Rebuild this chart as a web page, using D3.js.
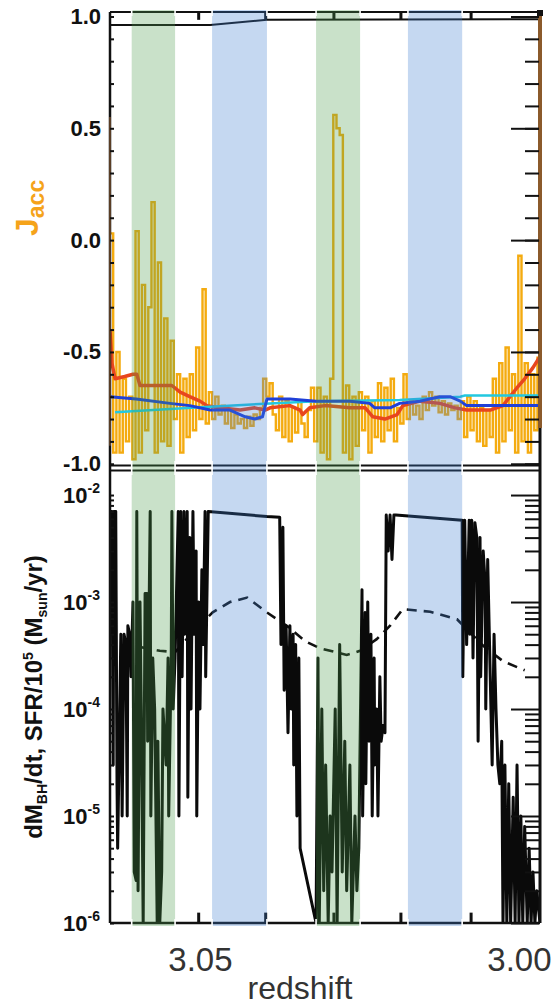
<!DOCTYPE html>
<html><head><meta charset="utf-8">
<script src="https://cdn.jsdelivr.net/npm/d3@7"></script>
<style>
html,body{margin:0;padding:0;background:#fff;}
svg{display:block;font-family:"Liberation Sans",Arial,Helvetica,sans-serif;}
</style></head><body>
<svg id="chart" width="557" height="1008"></svg>
<script>
// ---------------- DATA ----------------
const xTickValues = [3.05, 3.00];
const xTickLabels = ["3.05", "3.00"];
const jTickValues = [1.0, 0.5, 0.0, -0.5, -1.0];
const jTickLabels = ["1.0", "0.5", "0.0", "-0.5", "-1.0"];
const logTickValues = [1e-2, 1e-3, 1e-4, 1e-5, 1e-6];
const logTickExps = ["-2", "-3", "-4", "-5", "-6"];

const bandsGreen = [[3.0607, 3.0539], [3.0318, 3.0249]];
const bandsBlue = [[3.0481, 3.0395], [3.0174, 3.0089]];

// J_acc (orange), sampled every 0.0005 in redshift starting at 3.0641
const jaccZ0 = 3.0641, jaccDZ = 0.0005;
const jaccVals = [0.03,-0.95,-0.5,-0.95,-0.62,-0.9,-0.7,-0.98,0.04,-0.95,
 -0.2,-0.85,-0.3,0.17,-0.95,-0.1,-0.9,-0.35,-0.92,-0.45,
 -0.8,-0.6,-0.95,-0.62,-0.88,-0.6,-0.85,-0.48,-0.8,-0.22,
 -0.82,-0.68,-0.8,-0.7,-0.78,-0.74,-0.82,-0.76,-0.84,-0.78,
 -0.82,-0.8,-0.84,-0.79,-0.83,-0.78,-0.8,-0.75,-0.62,-0.7,
 -0.64,-0.78,-0.85,-0.7,-0.88,-0.72,-0.9,-0.75,-0.86,-0.72,
 -0.82,-0.88,-0.76,-0.66,-0.9,-0.66,-0.95,-0.7,-0.98,-0.62,
 0.56,0.5,0.47,-0.95,-0.65,-0.98,-0.7,-0.92,-0.68,-0.85,
 -0.7,-0.95,-0.72,-0.88,-0.64,-0.9,-0.66,-0.85,-0.62,-0.9,
 -0.75,-0.82,-0.6,-0.8,-0.72,-0.78,-0.74,-0.8,-0.7,-0.76,
 -0.68,-0.74,-0.7,-0.77,-0.72,-0.78,-0.73,-0.76,-0.74,-0.8,
 -0.72,-0.88,-0.7,-0.85,-0.72,-0.9,-0.75,-0.92,-0.76,-0.88,
 -0.62,-0.95,-0.55,-0.9,-0.48,-0.85,-0.6,-0.95,-0.07,-0.9,
 -0.55,-0.95,-0.6,-0.85,-0.52];

const redZ = [3.0641,3.0638,3.0633,3.0618,3.0605,3.0599,3.0594,3.0563,3.0544,3.0531,3.0516,3.0500,3.0489,3.0469,3.0437,3.0414,3.0398,3.0390,3.0359,3.0343,3.0339,3.0328,3.0304,3.0265,3.0241,3.0229,3.0210,3.0191,3.0182,3.0155,3.0124,3.0100,3.0082,3.0045,3.0025,3.0014,3.0003,2.9991,2.9978,2.9967];
const redJ = [-0.40,-0.55,-0.62,-0.61,-0.60,-0.60,-0.65,-0.65,-0.65,-0.68,-0.70,-0.72,-0.74,-0.75,-0.76,-0.75,-0.76,-0.75,-0.74,-0.76,-0.78,-0.75,-0.74,-0.75,-0.75,-0.79,-0.80,-0.78,-0.74,-0.72,-0.73,-0.75,-0.76,-0.76,-0.74,-0.70,-0.66,-0.62,-0.57,-0.52];

const blueZ = [3.0641,3.0600,3.0547,3.0516,3.0484,3.0453,3.0429,3.0414,3.0402,3.0395,3.0359,3.0318,3.0265,3.0234,3.0226,3.0202,3.0187,3.0155,3.0124,3.0108,3.0092,3.0082,3.0030,2.9967];
const blueJ = [-0.70,-0.71,-0.73,-0.74,-0.76,-0.76,-0.79,-0.80,-0.79,-0.71,-0.71,-0.72,-0.72,-0.73,-0.75,-0.75,-0.73,-0.72,-0.70,-0.70,-0.72,-0.74,-0.74,-0.74];

const cyanZ = [3.0633,3.0547,3.0484,3.0390,3.0318,3.0187,3.0092,3.0085,2.9967];
const cyanJ = [-0.77,-0.755,-0.745,-0.73,-0.72,-0.715,-0.70,-0.695,-0.695];

const topZ = [3.0641,3.0484,3.0395,2.9967];
const topJ = [0.962,0.962,0.985,0.988];

const eventZ = [3.0502,3.0397,3.0290,3.0185,3.0075];

// dM_BH/dt (black)
const bhZ = [3.0641,3.0638,3.0636,3.0635,3.0632,3.0630,3.0629,3.0627,3.0624,3.0622,3.0619,3.0616,3.0614,3.0613,3.0610,3.0608,
 3.0605,3.0603,3.0600,3.0599,3.0597,3.0594,3.0592,3.0589,3.0586,3.0583,3.0582,3.0578,3.0577,3.0574,3.0571,3.0567,3.0566,3.0563,3.0560,3.0558,3.0553,3.0550,3.0549,3.0545,3.0544,3.0542,3.0539,
 3.0534,3.0533,3.0530,3.0528,3.0525,3.0524,3.0520,3.0519,3.0516,3.0514,3.0511,3.0509,3.0506,3.0505,3.0502,3.0500,3.0497,3.0495,3.0492,3.0491,3.0487,
 3.0395,3.0375,3.0373,3.0370,3.0368,3.0365,3.0364,3.0362,3.0359,3.0357,3.0354,3.0353,3.0350,3.0348,3.0345,3.0343,3.0318,
 3.0315,3.0313,3.0309,3.0306,3.0303,3.0299,3.0296,3.0293,3.0288,3.0285,3.0281,3.0277,3.0273,3.0270,3.0265,3.0262,3.0257,3.0254,3.0251,
 3.0246,3.0245,3.0241,3.0240,3.0237,3.0235,3.0232,3.0230,3.0227,3.0226,3.0223,3.0221,3.0218,3.0216,3.0213,3.0210,3.0208,3.0205,3.0202,3.0199,3.0196,3.0193,
 3.0089,3.0088,3.0085,3.0082,3.0078,3.0077,3.0074,3.0072,3.0069,3.0066,3.0064,3.0061,3.0060,3.0056,3.0053,3.0052,3.0049,3.0045,3.0042,3.0039,3.0036,3.0033,3.0030,3.0027,3.0025,3.0022,3.0019,3.0016,3.0013,3.0009,3.0006,3.0003,3.0000,2.9997,2.9994,2.9991,2.9987,2.9984,2.9981,2.9978,2.9975,2.9972,2.9967];
const bhV = [7e-3,7e-3,3e-5,7e-3,7e-3,2e-5,5e-6,3e-5,5e-4,1e-5,5e-4,4e-4,1e-5,6e-4,5e-4,2e-4,
 1e-3,3e-6,2.5e-6,7e-3,2e-6,1e-3,1e-4,1e-6,1.2e-3,1.2e-3,5e-5,7e-3,1e-5,3e-4,1e-4,1e-6,5e-5,1e-6,3e-6,1e-4,3e-5,3e-4,1e-5,3e-4,7e-3,1e-4,3e-4,
 7e-3,1e-5,7e-3,2e-4,7e-3,5e-4,7e-3,1.5e-5,4e-3,1e-4,7e-3,5e-4,3e-3,1e-5,1e-3,1e-4,2e-3,4e-4,7e-3,2e-4,7e-3,
 6.3e-3,6.2e-3,4e-4,5e-3,1.5e-4,6e-4,3e-4,6e-5,6e-4,1e-4,5e-4,3e-5,4e-4,1e-5,3e-4,5e-6,1e-6,
 3e-4,1e-6,1e-4,2e-6,3e-5,1e-6,1e-5,3e-6,1e-4,1e-6,4e-4,3e-6,5e-5,2e-6,3e-5,1e-6,1e-5,2e-6,5e-6,
 1.3e-3,1e-5,8e-4,2e-5,1e-3,5e-5,5e-4,1e-5,3e-4,3e-5,1e-4,1e-5,2e-4,5e-5,7e-5,6e-5,6.5e-3,3e-3,6.5e-3,2.5e-3,6.5e-3,6.5e-3,
 5.8e-3,2e-4,5.8e-3,4e-4,5.8e-3,5e-4,5.8e-3,3e-4,5.5e-3,4e-3,5e-5,4e-3,2e-4,3e-3,1.5e-3,1e-4,2.5e-3,2e-4,3e-5,5e-4,1e-4,3e-5,2e-5,5e-5,1e-6,3e-5,1e-6,2e-5,1e-6,1.5e-5,1e-6,3e-5,1e-6,1e-5,1e-6,8e-6,1e-6,5e-6,1e-6,3e-6,1e-6,2e-6,1e-6];

// SFR / 1e5 (dashed)
const sfrZ = [3.0594,3.0563,3.0539,3.0508,3.0480,3.0453,3.0426,3.0395,3.0364,3.0335,3.0312,3.0270,3.0249,3.0223,3.0202,3.0182,3.0139,3.0097,3.0077,3.0056,3.0025,2.9991];
const sfrV = [3.8e-4,3.5e-4,3.4e-4,5.5e-4,8e-4,1e-3,1.1e-3,8e-4,6e-4,4.3e-4,3.7e-4,3.2e-4,3.5e-4,4.5e-4,6e-4,8.6e-4,8.1e-4,6.9e-4,5.2e-4,3.9e-4,2.8e-4,2.3e-4];

// ---------------- CHART ----------------
const L = 110, R = 540;
const T1 = 12, B1 = 466, T2 = 470, B2 = 923;
const svg = d3.select("#chart");
const x = d3.scaleLinear().domain([3.0641, 2.9967]).range([L, R]);
const yTop = d3.scaleLinear().domain([-1.01, 1.02]).range([B1, T1]);
const yBot = d3.scaleLog().domain([1e-6, 0.01714]).range([B2, T2]);

const defs = svg.append("defs");
defs.append("clipPath").attr("id","c1").append("rect").attr("x",L).attr("y",T1).attr("width",R-L).attr("height",B1-T1);
defs.append("clipPath").attr("id","c2").append("rect").attr("x",L).attr("y",T2-2).attr("width",R-L).attr("height",B2-T2+2);

const g1 = svg.append("g").attr("clip-path","url(#c1)");
const g2 = svg.append("g").attr("clip-path","url(#c2)");

const lineTop = d3.line().x(d=>x(d[0])).y(d=>yTop(d[1]));
const lineBot = d3.line().x(d=>x(d[0])).y(d=>yBot(d[1]));

// orange J_acc
const jaccPts = jaccVals.map((v,i)=>[jaccZ0 - i*jaccDZ, v]);
g1.append("path").attr("d", lineTop.curve(d3.curveStepAfter)(jaccPts))
  .attr("fill","none").attr("stroke","#f4ab10").attr("stroke-width",2.4);
lineTop.curve(d3.curveLinear);
g1.append("path").attr("d", lineTop(d3.zip(redZ, redJ)))
  .attr("fill","none").attr("stroke","#e8461e").attr("stroke-width",3.5).attr("stroke-linejoin","round");
g1.append("path").attr("d", lineTop(d3.zip(cyanZ, cyanJ)))
  .attr("fill","none").attr("stroke","#22c8e0").attr("stroke-width",2.5);
g1.append("path").attr("d", lineTop(d3.zip(blueZ, blueJ)))
  .attr("fill","none").attr("stroke","#2040d8").attr("stroke-width",3).attr("stroke-linejoin","round");
g1.append("path").attr("d", lineTop(d3.zip(topZ, topJ)))
  .attr("fill","none").attr("stroke","#111").attr("stroke-width",2);
g1.selectAll("line.ev").data(eventZ).enter().append("line")
  .attr("x1",d=>x(d)).attr("x2",d=>x(d)).attr("y1",yTop(1.02)).attr("y2",yTop(0.985))
  .attr("stroke","#111").attr("stroke-width",3);

// bottom panel
g2.append("path").attr("d", lineBot(d3.zip(sfrZ, sfrV)))
  .attr("fill","none").attr("stroke","#111").attr("stroke-width",2.6).attr("stroke-dasharray","10,7");
g2.append("path").attr("d", lineBot(d3.zip(bhZ, bhV)))
  .attr("fill","none").attr("stroke","#0a0a0a").attr("stroke-width",3).attr("stroke-linejoin","round");
g2.selectAll("line.ev").data(eventZ).enter().append("line")
  .attr("x1",d=>x(d)).attr("x2",d=>x(d)).attr("y1",yBot(1e-6)).attr("y2",yBot(1.25e-6))
  .attr("stroke","#111").attr("stroke-width",3);

// frame
const frame = svg.append("g").attr("stroke","#111").attr("fill","none");
frame.append("line").attr("x1",L).attr("x2",R).attr("y1",T1).attr("y2",T1).attr("stroke-width",2);
frame.append("line").attr("x1",L).attr("x2",R).attr("y1",B1-0.5).attr("y2",B1-0.5).attr("stroke-width",2);
frame.append("line").attr("x1",L).attr("x2",R).attr("y1",T2+0.5).attr("y2",T2+0.5).attr("stroke-width",2);
frame.append("line").attr("x1",L).attr("x2",R).attr("y1",B2).attr("y2",B2).attr("stroke-width",2.5);
frame.append("line").attr("x1",L).attr("x2",L).attr("y1",T1).attr("y2",B2).attr("stroke-width",2.5);
frame.append("line").attr("x1",R).attr("x2",R).attr("y1",yTop(-0.84)).attr("y2",B2).attr("stroke-width",3);
svg.append("line").attr("x1",R).attr("x2",R).attr("y1",T1).attr("y2",yTop(-0.84))
  .attr("stroke","#8b5a2b").attr("stroke-width",4);
svg.append("line").attr("x1",L).attr("x2",L).attr("y1",yTop(0.55)).attr("y2",yTop(-0.92))
  .attr("stroke","#7a5230").attr("stroke-width",2).attr("opacity",0.7);
svg.append("rect").attr("x",R-3).attr("y",T1-2).attr("width",6).attr("height",6).attr("fill","#111");

// ticks
function styleAxis(g){ g.select(".domain").remove(); g.selectAll(".tick line").attr("stroke","#111").attr("stroke-width",2); g.selectAll("text").remove(); }
const jMinor = d3.range(-10, 11).map(i => i/10);
svg.append("g").attr("transform",`translate(${R-1},0)`)
  .call(d3.axisLeft(yTop).tickValues(jMinor).tickSize(14).tickFormat("")).call(styleAxis);
svg.append("g").attr("transform",`translate(${R-1},0)`)
  .call(d3.axisLeft(yTop).tickValues(jTickValues).tickSize(28).tickFormat("")).call(styleAxis);
svg.append("g").attr("transform",`translate(${L},0)`)
  .call(d3.axisRight(yTop).tickValues(jMinor).tickSize(4).tickFormat("")).call(styleAxis);

const logMinor = [];
[-6,-5,-4,-3,-2].forEach(e => { for (let k=2;k<=9;k++){ const v=k*Math.pow(10,e); if (v < 0.0171) logMinor.push(v);} });
svg.append("g").attr("transform",`translate(${R-1},0)`)
  .call(d3.axisLeft(yBot).tickValues(logMinor).tickSize(14).tickFormat("")).call(styleAxis);
svg.append("g").attr("transform",`translate(${R-1},0)`)
  .call(d3.axisLeft(yBot).tickValues(logTickValues).tickSize(28).tickFormat("")).call(styleAxis);
svg.append("g").attr("transform",`translate(${L},0)`)
  .call(d3.axisRight(yBot).tickValues(logTickValues.concat(logMinor)).tickSize(4).tickFormat("")).call(styleAxis);

// bands overlay
const bandG = svg.append("g");
bandG.selectAll("rect.g").data(bandsGreen).enter().append("rect")
  .attr("x",d=>x(d[0])).attr("width",d=>x(d[1])-x(d[0])).attr("y",T1-2).attr("height",B2-T1+5)
  .attr("fill","#4c9a4c").attr("opacity",0.3);
bandG.selectAll("rect.b").data(bandsBlue).enter().append("rect")
  .attr("x",d=>x(d[0])).attr("width",d=>x(d[1])-x(d[0])).attr("y",T1-2).attr("height",B2-T1+5)
  .attr("fill","#3f7fd0").attr("opacity",0.3);
const edges = bandsGreen.concat(bandsBlue).flat();
const rows = [[T1-4,T1+4],[B1-5,T2+5],[B2-4,B2+4]];
edges.forEach(z => rows.forEach(r => {
  svg.append("line").attr("x1",x(z)).attr("x2",x(z)).attr("y1",r[0]).attr("y2",r[1])
    .attr("stroke","#fff").attr("stroke-width",1.6);
}));

// tick labels
svg.selectAll("text.jt").data(jTickValues).enter().append("text")
  .attr("x",101).attr("y",d=>yTop(d)).attr("text-anchor","end").attr("dominant-baseline","central")
  .attr("font-size",22).attr("font-weight","bold").attr("fill","#111").text((d,i)=>jTickLabels[i]);
logTickValues.forEach((v,i) => {
  const t = svg.append("text").attr("x",100).attr("y",yBot(v)+8).attr("text-anchor","end")
    .attr("font-weight","bold").attr("fill","#111");
  t.append("tspan").attr("font-size",22).text("10");
  t.append("tspan").attr("font-size",14).attr("dy",-10).text(logTickExps[i]);
});
const xAx = svg.append("g").attr("transform",`translate(0,${B2})`)
  .call(d3.axisBottom(x).tickValues(xTickValues).tickSize(0).tickPadding(25).tickFormat((d,i)=>xTickLabels[i]));
xAx.select(".domain").remove();
xAx.selectAll("text").attr("font-size",33).attr("fill","#333").attr("font-family","'Liberation Sans',Arial,sans-serif");

// axis titles
svg.append("text").attr("x",300).attr("y",999).attr("text-anchor","middle")
  .attr("font-size",32).attr("fill","#333").text("redshift");

const jl = svg.append("text").attr("transform","translate(38,236) rotate(-90)")
  .attr("text-anchor","start").attr("font-weight","bold").attr("fill","#f5a31a");
jl.append("tspan").attr("font-size",32).text("J");
jl.append("tspan").attr("font-size",23).attr("dy",6).text("acc");

const yl = svg.append("text").attr("transform","translate(42,697) rotate(-90)")
  .attr("text-anchor","middle").attr("font-weight","bold").attr("font-size",24).attr("fill","#111");
yl.append("tspan").text("dM");
yl.append("tspan").attr("font-size",14).attr("dy",5).text("BH");
yl.append("tspan").attr("dy",-5).text("/dt, SFR/10");
yl.append("tspan").attr("font-size",14).attr("dy",-9).text("5");
yl.append("tspan").attr("dy",9).text(" (M");
yl.append("tspan").attr("font-size",14).attr("dy",5).text("sun");
yl.append("tspan").attr("dy",-5).text("/yr)");
</script></body></html>
